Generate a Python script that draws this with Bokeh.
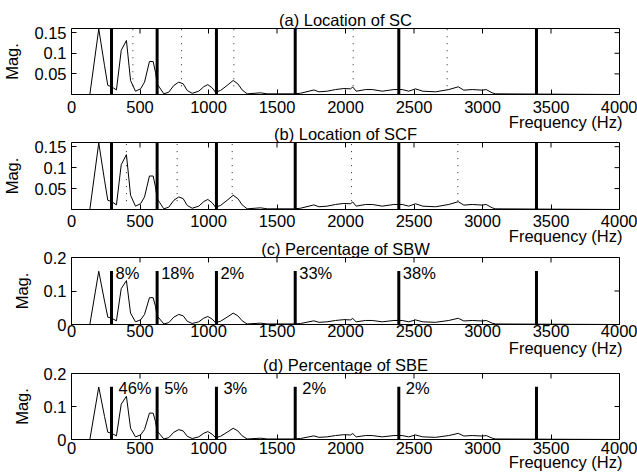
import numpy as np
from bokeh.plotting import figure
from bokeh.layouts import column
from bokeh.models import Range1d, LinearAxis, FixedTicker, Title, ColumnDataSource
from bokeh.embed import file_html
from bokeh.resources import INLINE
from bokeh.core.properties import value

# ---------------- data ----------------
freq_hz = [0, 134, 199, 241, 265, 292, 328, 363, 401, 431, 467, 504, 533, 569, 596,
           613, 625, 645, 674, 710, 747, 783, 815, 845, 881, 929, 966, 995, 1027, 1051,
           1088, 1136, 1180, 1214, 1246, 1282, 1380, 1428, 1623, 1672, 1769, 1806, 1866,
           1927, 1988, 2036, 2053, 2078, 2146, 2195, 2268, 2353, 2414, 2462, 2511, 2564,
           2657, 2754, 2823, 2864, 2925, 2998, 3027, 3071, 3095, 3394, 4000]
mag = [0.0, 0.0, 0.159, 0.070, 0.022, 0.019, 0.011, 0.107, 0.131, 0.034, 0.008, 0.0137,
       0.030, 0.080, 0.080, 0.054, 0.026, 0.016, 0.0016, 0.0056, 0.022, 0.030, 0.026,
       0.0097, 0.003, 0.008, 0.019, 0.024, 0.016, 0.0056, 0.0097, 0.022, 0.034, 0.026,
       0.011, 0.0016, 0.004, 0.0016, 0.0016, 0.003, 0.011, 0.0065, 0.008, 0.012, 0.0145,
       0.0137, 0.018, 0.008, 0.012, 0.012, 0.008, 0.012, 0.012, 0.008, 0.0137, 0.008,
       0.0065, 0.012, 0.0186, 0.0105, 0.012, 0.0105, 0.012, 0.004, 0.0016, 0.001, 0.0]

band_edges_hz = [292, 625, 1058, 1633, 2389, 3394]
band_marker_height = 0.16
sc_hz = [448, 803, 1185, 2056, 2742]
scf_hz = [401, 771, 1173, 2044, 2820]
dotted_floor = 0.02
sbw_pct = ["8%", "18%", "2%", "33%", "38%"]
sbe_pct = ["46%", "5%", "3%", "2%", "2%"]
pct_level = 0.155

titles = ["(a) Location of SC", "(b) Location of SCF",
          "(c) Percentage of SBW", "(d) Percentage of SBE"]
x_label = "Frequency (Hz)"
y_label = "Mag."
x_ticks = [0, 500, 1000, 1500, 2000, 2500, 3000, 3500, 4000]
x_tick_labels = ["0", "500", "1000", "1500", "2000", "2500", "3000", "3500", "4000"]
y_ticks_loc = [0.05, 0.1, 0.15]
y_tick_labels_loc = ["0.05", "0.1", "0.15"]
y_ticks_pct = [0, 0.1, 0.2]
y_tick_labels_pct = ["0", "0.1", "0.2"]
y_max_loc = 0.16
y_max_pct = 0.2

FONT = "Liberation Sans"
FS = "16.5px"


def make_panel(title, y_max, y_ticks, y_tick_labels, b_top, frame_h, b_bottom,
               tick_standoff, xlab_standoff, margin):
    p = figure(width=637, height=b_top + frame_h + b_bottom, x_range=Range1d(0, 4000),
               y_range=Range1d(0, y_max), output_backend="svg",
               toolbar_location=None, x_axis_type=None, y_axis_type=None,
               min_border_left=71, min_border_right=18,
               min_border_top=b_top, min_border_bottom=b_bottom, margin=margin)
    p.outline_line_color = "black"
    p.outline_line_width = 1
    p.background_fill_color = "white"
    p.border_fill_color = None

    p.title.text = title
    p.title.align = "center"
    p.title.standoff = 0
    p.title.text_font = FONT
    p.title.text_font_size = FS
    p.title.text_font_style = "normal"
    p.title.text_color = "black"

    xt = FixedTicker(ticks=x_ticks, minor_ticks=[])
    yt = FixedTicker(ticks=y_ticks, minor_ticks=[])
    below = LinearAxis(ticker=xt, major_label_overrides=dict(zip(x_ticks, x_tick_labels)))
    left = LinearAxis(ticker=yt, major_label_overrides=dict(zip(y_ticks, y_tick_labels)),
                      axis_label=y_label)
    for ax in (below, left):
        ax.axis_line_color = None
        ax.major_tick_in = 5
        ax.major_tick_out = 0
        ax.minor_tick_in = 0
        ax.minor_tick_out = 0
        ax.major_tick_line_color = "black"
        ax.major_tick_line_width = 1
        ax.major_label_text_font = FONT
        ax.major_label_text_font_size = FS
        ax.major_label_text_color = "black"
    below.major_label_standoff = tick_standoff
    left.major_label_standoff = 5
    left.axis_label_text_font = FONT
    left.axis_label_text_font_size = FS
    left.axis_label_text_font_style = "normal"
    left.axis_label_text_color = "black"
    left.axis_label_standoff = 10
    p.add_layout(below, "below")
    p.add_layout(left, "left")

    xlab = Title(text=x_label, align="right", vertical_align="top",
                 standoff=xlab_standoff, offset=-3, text_font=FONT,
                 text_font_size=FS, text_font_style="normal", text_color="black")
    p.add_layout(xlab, "below")

    # inward ticks on the top and right edges of the box
    p.scatter(x=x_ticks, y=[y_max] * len(x_ticks), marker="dash", angle=np.pi / 2,
              size=10, line_color="black", line_width=1)
    p.scatter(x=[4000] * len(y_ticks), y=y_ticks, marker="dash", angle=0,
              size=10, line_color="black", line_width=1)

    p.line(freq_hz, mag, line_color="black", line_width=1)
    return p


def add_bands(p):
    src = ColumnDataSource(dict(x=band_edges_hz, y0=[0] * len(band_edges_hz),
                                y1=[band_marker_height] * len(band_edges_hz)))
    p.segment(x0="x", y0="y0", x1="x", y1="y1", source=src,
              line_color="black", line_width=3, line_cap="butt")


def add_dotted(p, xs):
    src = ColumnDataSource(dict(x=xs, y0=[dotted_floor] * len(xs),
                                y1=[band_marker_height] * len(xs)))
    p.segment(x0="x", y0="y0", x1="x", y1="y1", source=src,
              line_color="#222222", line_width=1, line_dash="1 6")


def add_pct(p, labels, dx):
    n = len(labels)
    src = ColumnDataSource(dict(x=band_edges_hz[:n], y=[pct_level] * n, t=labels))
    p.text(x="x", y="y", text="t", source=src, x_offset=dx,
           text_font=value(FONT), text_font_size=FS, text_color="black",
           text_align="left", text_baseline="middle")


pa = make_panel(titles[0], y_max_loc, y_ticks_loc, y_tick_labels_loc, 28, 66, 40, 6, -5.4,
                (0, 0, 0, 0))
add_dotted(pa, sc_hz)
add_bands(pa)

pb = make_panel(titles[1], y_max_loc, y_ticks_loc, y_tick_labels_loc, 21, 67, 39, 5, -5.4,
                (-13, 0, 0, 0))
add_dotted(pb, scf_hz)
add_bands(pb)

pc = make_panel(titles[2], y_max_pct, y_ticks_pct, y_tick_labels_pct, 21, 67, 38, 0, -1.4,
                (-12, 0, 0, 0))
add_bands(pc)
add_pct(pc, sbw_pct, 4)

pd_ = make_panel(titles[3], y_max_pct, y_ticks_pct, y_tick_labels_pct, 21, 66, 35, 2, -6.4,
                 (-10, 0, 0, 0))
add_bands(pd_)
add_pct(pd_, sbe_pct, 7)

layout = column(pa, pb, pc, pd_, spacing=0)
open("out.html", "w").write(file_html(layout, INLINE))
